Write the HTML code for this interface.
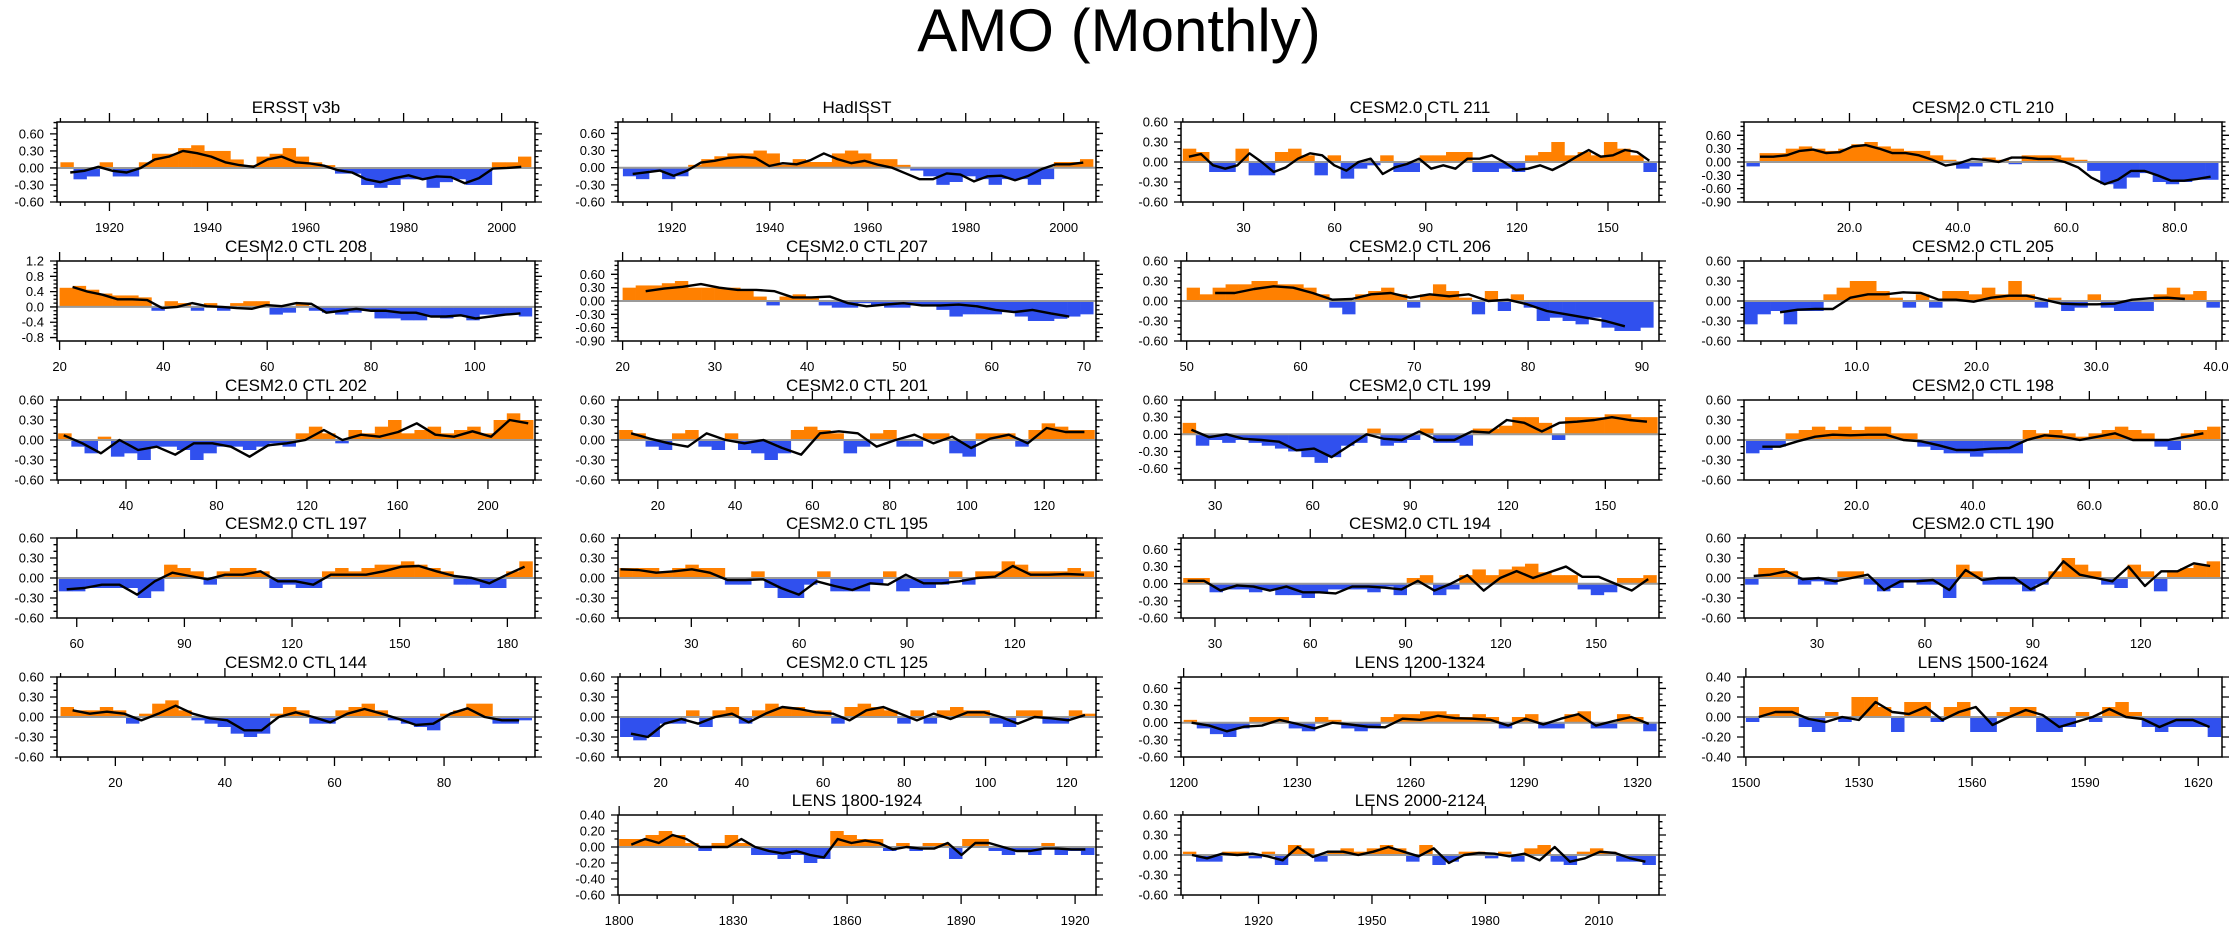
<!DOCTYPE html>
<html><head><meta charset="utf-8"><title>AMO (Monthly)</title>
<style>
html,body{margin:0;padding:0;background:#fff;}
svg{display:block;font-family:"Liberation Sans",sans-serif;}
</style></head>
<body>
<svg id="chart" width="2239" height="932" viewBox="0 0 2239 932" xmlns="http://www.w3.org/2000/svg">
<text x="1119" y="51" text-anchor="middle" font-size="60">AMO (Monthly)</text>
</svg>
<script>
const p1Smooth=[-0.08,-0.05,0.02,-0.05,-0.08,0.0,0.15,0.2,0.3,0.26,0.2,0.1,0.05,0.02,0.15,0.2,0.1,0.08,0.04,-0.04,-0.08,-0.2,-0.25,-0.18,-0.13,-0.2,-0.15,-0.16,-0.27,-0.18,-0.01,0.0,0.02];
const p1Bars=[0.1,-0.2,-0.15,0.1,-0.15,-0.15,0.1,0.25,0.25,0.35,0.4,0.3,0.3,0.15,0.05,0.2,0.25,0.35,0.2,0.1,0.05,-0.1,-0.1,-0.3,-0.35,-0.3,-0.2,-0.2,-0.35,-0.25,-0.2,-0.3,-0.3,0.1,0.1,0.2];
const p2Smooth=[-0.11,-0.08,-0.05,-0.14,-0.05,0.09,0.12,0.17,0.19,0.17,0.03,0.08,0.06,0.13,0.25,0.15,0.08,0.12,0.05,0.0,-0.1,-0.2,-0.2,-0.1,-0.12,-0.24,-0.15,-0.14,-0.22,-0.14,-0.02,0.06,0.06,0.09];
const p2Bars=[-0.15,-0.2,-0.05,-0.2,-0.15,0.05,0.15,0.2,0.25,0.25,0.3,0.25,0.05,0.15,0.1,0.1,0.25,0.3,0.25,0.15,0.15,0.05,-0.05,-0.15,-0.3,-0.25,-0.15,-0.2,-0.3,-0.2,-0.2,-0.3,-0.2,0.1,0.1,0.15];
const p3Smooth=[0.08,0.12,-0.05,-0.1,-0.05,0.13,0.0,-0.15,-0.08,0.05,0.13,0.1,-0.05,-0.13,0.0,0.05,-0.18,-0.08,-0.03,0.05,-0.1,-0.05,-0.1,0.05,0.05,0.1,0.0,-0.12,-0.1,-0.05,-0.12,-0.03,0.08,0.18,0.08,0.1,0.18,0.15,0.02];
const p3Bars=[0.2,0.15,-0.15,-0.15,0.2,-0.2,-0.2,0.15,0.2,0.1,-0.2,0.1,-0.25,-0.1,-0.05,0.1,-0.15,-0.15,0.1,0.1,0.15,0.15,-0.15,-0.15,-0.1,-0.15,0.1,0.15,0.3,0.1,0.15,0.1,0.3,0.2,0.1,-0.15];
const p4Smooth=[0.12,0.12,0.15,0.25,0.28,0.2,0.22,0.35,0.38,0.3,0.2,0.2,0.15,0.05,-0.08,-0.03,0.07,0.05,0.0,0.1,0.1,0.07,0.07,0.0,-0.12,-0.35,-0.5,-0.4,-0.2,-0.2,-0.3,-0.42,-0.42,-0.38,-0.33];
const p4Bars=[-0.1,0.2,0.2,0.3,0.35,0.3,0.25,0.3,0.4,0.45,0.35,0.3,0.25,0.25,0.15,0.05,-0.15,-0.1,0.1,0.05,-0.05,0.15,0.15,0.15,0.1,0.05,-0.2,-0.5,-0.6,-0.35,-0.25,-0.45,-0.5,-0.45,-0.4,-0.4];
const p5Smooth=[0.52,0.4,0.32,0.2,0.2,0.18,-0.03,0.0,0.1,0.02,0.0,-0.03,-0.05,0.05,0.02,0.1,0.08,-0.15,-0.1,-0.05,-0.1,-0.1,-0.15,-0.15,-0.25,-0.25,-0.22,-0.3,-0.25,-0.2,-0.17];
const p5Bars=[0.5,0.55,0.45,0.35,0.3,0.3,0.25,-0.1,0.15,0.1,-0.1,0.1,-0.1,0.1,0.15,0.15,-0.2,-0.15,0.1,-0.1,-0.15,-0.2,-0.15,-0.1,-0.3,-0.3,-0.35,-0.35,-0.25,-0.3,-0.25,-0.35,-0.2,-0.2,-0.2,-0.25];
const p6Smooth=[0.22,0.28,0.32,0.38,0.3,0.25,0.25,0.22,0.08,0.08,0.1,-0.05,-0.12,-0.08,-0.05,-0.1,-0.1,-0.08,-0.12,-0.2,-0.25,-0.2,-0.28,-0.35];
const p6Bars=[0.3,0.35,0.35,0.4,0.45,0.3,0.3,0.3,0.3,0.25,0.1,-0.1,0.1,0.15,0.1,-0.1,-0.15,-0.15,-0.05,-0.1,-0.15,-0.15,-0.1,-0.1,-0.2,-0.35,-0.3,-0.3,-0.3,-0.25,-0.35,-0.45,-0.45,-0.4,-0.35,-0.3];
const p7Smooth=[0.12,0.12,0.18,0.22,0.2,0.12,0.02,0.03,0.1,0.12,0.05,0.1,0.07,0.1,0.0,0.02,-0.05,-0.15,-0.2,-0.25,-0.3,-0.38];
const p7Bars=[0.2,0.1,0.2,0.25,0.25,0.3,0.3,0.25,0.25,0.2,0.1,-0.1,-0.2,0.1,0.15,0.2,0.1,-0.1,0.1,0.25,0.15,0.05,-0.2,0.15,-0.15,0.1,-0.1,-0.3,-0.25,-0.3,-0.35,-0.25,-0.4,-0.45,-0.45,-0.4];
const p8Smooth=[-0.17,-0.13,-0.12,-0.12,0.05,0.1,0.1,0.13,0.12,0.02,0.02,-0.01,0.05,0.08,0.08,0.02,-0.04,-0.05,-0.05,-0.04,0.02,0.04,0.05,0.03];
const p8Bars=[-0.35,-0.2,-0.15,-0.35,-0.15,-0.15,0.1,0.2,0.3,0.3,0.15,0.05,-0.1,0.1,-0.1,0.15,0.15,0.1,0.2,0.1,0.3,0.1,-0.1,0.05,-0.15,-0.1,0.1,-0.1,-0.15,-0.15,-0.15,0.1,0.2,0.1,0.15,-0.1];
const p9Smooth=[0.07,-0.05,-0.2,0.0,-0.15,-0.1,-0.22,-0.05,-0.05,-0.1,-0.25,-0.08,-0.05,0.0,0.15,0.0,0.08,0.05,0.12,0.25,0.08,0.05,0.13,0.05,0.3,0.25];
const p9Bars=[0.1,-0.1,-0.2,0.05,-0.25,-0.2,-0.3,-0.1,-0.1,-0.15,-0.3,-0.2,-0.1,-0.1,-0.15,-0.1,-0.05,-0.1,0.1,0.2,0.1,-0.05,0.15,0.1,0.2,0.3,0.1,0.15,0.2,0.1,0.15,0.2,0.1,0.3,0.4,0.3];
const p10Smooth=[0.1,0.02,-0.05,-0.1,0.1,0.0,-0.05,0.0,-0.12,-0.22,0.1,0.13,0.1,-0.1,0.0,0.08,-0.05,0.05,-0.12,0.02,0.08,-0.05,0.18,0.12,0.12];
const p10Bars=[0.15,0.1,-0.1,-0.15,0.1,0.15,-0.1,-0.15,0.1,-0.15,-0.2,-0.3,-0.2,0.15,0.2,0.15,0.1,-0.2,-0.1,0.1,0.15,-0.1,-0.1,0.1,0.1,-0.2,-0.25,0.1,0.1,0.1,-0.1,0.15,0.25,0.2,0.15,0.15];
const p11Smooth=[0.08,-0.05,0.0,-0.08,-0.1,-0.13,-0.28,-0.25,-0.4,-0.2,0.0,-0.08,-0.1,0.05,-0.1,-0.1,0.05,0.03,0.25,0.2,0.05,0.2,0.22,0.25,0.3,0.25,0.22];
const p11Bars=[0.2,-0.2,-0.1,-0.15,-0.1,-0.15,-0.2,-0.25,-0.3,-0.4,-0.5,-0.4,-0.2,-0.15,0.1,-0.2,-0.15,-0.1,0.1,-0.15,-0.15,-0.2,0.1,0.1,0.15,0.3,0.3,0.2,-0.1,0.3,0.3,0.3,0.35,0.35,0.3,0.3];
const p12Smooth=[-0.1,-0.1,-0.02,0.05,0.08,0.07,0.08,0.08,0.0,-0.02,-0.08,-0.15,-0.15,-0.13,-0.12,0.0,0.07,0.05,0.0,0.05,0.1,0.0,0.0,0.0,0.05,0.1];
const p12Bars=[-0.2,-0.15,-0.1,0.1,0.15,0.2,0.15,0.2,0.15,0.2,0.2,0.1,0.1,-0.1,-0.15,-0.2,-0.2,-0.25,-0.2,-0.2,-0.2,0.15,0.1,0.15,0.1,0.05,0.1,0.15,0.2,0.15,0.1,-0.1,-0.15,0.1,0.15,0.2];
const p13Smooth=[-0.17,-0.15,-0.1,-0.1,-0.25,-0.05,0.08,0.03,-0.02,0.05,0.05,0.1,-0.05,-0.05,-0.1,0.05,0.05,0.05,0.1,0.17,0.18,0.1,0.03,0.0,-0.08,0.05,0.17];
const p13Bars=[-0.2,-0.2,-0.15,-0.15,-0.15,-0.15,-0.3,-0.2,0.2,0.15,0.1,-0.1,0.1,0.15,0.15,0.1,-0.15,-0.1,-0.15,-0.15,0.1,0.15,0.1,0.15,0.2,0.2,0.25,0.2,0.15,0.1,-0.1,-0.1,-0.15,-0.15,0.1,0.25];
const p14Smooth=[0.13,0.12,0.08,0.1,0.13,0.08,-0.03,-0.03,-0.02,-0.15,-0.25,-0.05,-0.12,-0.18,-0.08,-0.1,0.05,-0.08,-0.08,-0.05,0.0,0.02,0.18,0.05,0.05,0.06,0.05];
const p14Bars=[0.15,0.15,0.15,0.1,0.15,0.2,0.15,0.15,-0.1,-0.1,0.1,-0.15,-0.3,-0.3,-0.1,0.1,-0.2,-0.2,-0.2,-0.1,0.1,-0.2,-0.15,-0.15,-0.1,0.1,-0.1,0.1,0.1,0.25,0.2,0.1,0.1,0.1,0.15,0.1];
const p15Smooth=[0.05,0.05,-0.12,-0.03,-0.05,-0.12,-0.05,-0.15,-0.15,-0.17,-0.05,-0.05,-0.07,-0.1,0.05,-0.12,0.0,0.15,-0.12,0.1,0.22,0.1,0.2,0.3,0.12,0.12,0.0,-0.12,0.08];
const p15Bars=[0.1,0.1,-0.15,-0.1,-0.1,-0.15,-0.1,-0.2,-0.2,-0.25,-0.15,-0.1,-0.1,-0.1,-0.15,-0.05,-0.2,0.1,0.15,-0.2,-0.1,0.15,0.25,0.15,0.25,0.3,0.35,0.2,0.15,0.15,-0.1,-0.2,-0.15,0.1,0.1,0.15];
const p16Smooth=[0.03,0.05,0.1,-0.02,0.0,-0.05,0.0,0.05,-0.18,-0.05,-0.05,-0.03,-0.18,0.12,-0.03,0.0,0.0,-0.17,-0.05,0.25,0.05,0.0,-0.05,0.17,-0.12,0.1,0.1,0.22,0.18];
const p16Bars=[-0.1,0.15,0.15,0.1,-0.1,-0.05,-0.1,0.1,0.1,-0.1,-0.2,-0.15,-0.05,-0.1,-0.1,-0.3,0.2,0.1,-0.1,-0.1,-0.1,-0.2,-0.1,0.1,0.3,0.2,0.1,-0.1,-0.15,0.2,0.1,-0.2,0.1,0.15,0.2,0.25];
const p17Smooth=[0.1,0.05,0.08,0.05,-0.05,0.05,0.17,0.05,-0.02,-0.05,-0.2,-0.2,0.0,0.07,0.0,-0.08,0.05,0.12,0.05,-0.03,-0.12,-0.1,0.05,0.13,0.0,-0.05,-0.05];
const p17Bars=[0.15,0.1,0.1,0.15,0.1,-0.1,0.05,0.2,0.25,0.1,-0.05,-0.1,-0.15,-0.25,-0.3,-0.25,0.05,0.15,0.1,-0.1,-0.1,0.1,0.15,0.2,0.1,-0.05,-0.1,-0.15,-0.2,0.05,0.1,0.2,0.2,-0.1,-0.1,-0.05];
const p18Smooth=[-0.25,-0.3,-0.1,-0.03,-0.1,0.0,0.05,-0.08,0.05,0.15,0.12,0.07,0.05,-0.05,0.1,0.15,0.05,-0.05,0.05,-0.03,0.07,0.07,0.0,-0.1,0.0,-0.02,-0.05,0.03];
const p18Bars=[-0.3,-0.35,-0.3,-0.1,-0.1,0.1,-0.15,0.1,0.15,-0.1,0.1,0.2,0.15,0.15,0.1,0.1,-0.1,0.15,0.2,0.15,0.1,-0.1,0.1,-0.1,0.1,0.15,0.1,0.1,-0.1,-0.15,0.1,0.1,-0.1,-0.1,0.1,0.05];
const p19Smooth=[0.0,-0.05,-0.15,-0.07,-0.05,0.05,-0.02,-0.1,0.0,-0.03,-0.07,-0.08,0.07,0.05,0.12,0.08,0.07,0.05,-0.05,0.07,-0.03,0.07,0.15,-0.05,0.03,0.1,-0.02];
const p19Bars=[0.05,-0.1,-0.2,-0.25,-0.1,0.1,0.1,0.1,-0.1,-0.15,0.1,0.05,-0.1,-0.15,-0.1,0.1,0.15,0.15,0.2,0.2,0.15,0.1,0.15,0.1,-0.1,0.1,0.15,-0.1,-0.1,0.15,0.2,-0.1,-0.1,0.15,0.1,-0.15];
const p20Smooth=[0.0,0.05,0.05,-0.02,-0.05,0.0,-0.03,0.15,0.05,0.03,0.1,-0.03,0.05,0.1,-0.08,0.0,0.07,0.02,-0.1,-0.05,0.0,0.08,0.0,-0.02,-0.1,-0.03,-0.03,-0.1];
const p20Bars=[-0.05,0.1,0.1,0.1,-0.1,-0.15,0.05,-0.05,0.2,0.2,0.1,-0.15,0.15,0.15,-0.05,0.1,0.15,-0.15,-0.15,0.05,0.1,0.1,-0.15,-0.15,-0.1,0.05,-0.05,0.1,0.15,0.05,-0.1,-0.15,-0.1,-0.1,-0.1,-0.2];
const p21Smooth=[0.03,0.1,0.05,0.15,0.1,0.0,0.0,0.0,0.1,0.0,-0.05,-0.08,-0.05,-0.1,-0.13,0.1,0.05,0.08,0.05,-0.03,0.0,-0.02,-0.02,0.05,-0.1,0.05,0.05,0.0,-0.05,-0.05,-0.02,-0.02,-0.03,-0.03];
const p21Bars=[0.1,0.1,0.15,0.2,0.15,0.05,-0.05,0.05,0.15,0.05,-0.1,-0.1,-0.15,-0.1,-0.2,-0.15,0.2,0.15,0.1,0.1,-0.05,0.05,-0.05,0.05,0.05,-0.15,0.1,0.1,-0.05,-0.1,-0.05,-0.1,0.05,-0.1,-0.05,-0.1];
const p22Smooth=[0.0,-0.05,0.02,0.0,0.02,-0.02,-0.08,0.12,-0.03,0.05,0.05,0.0,0.05,0.12,0.05,-0.02,0.1,-0.12,0.0,0.03,0.02,-0.02,0.02,-0.08,0.12,-0.1,-0.05,0.05,0.03,-0.05,-0.1];
const p22Bars=[0.05,-0.1,-0.1,0.05,0.05,-0.05,0.05,-0.15,0.15,0.1,-0.1,0.05,0.1,0.05,0.1,0.15,0.1,-0.1,0.15,-0.15,-0.1,0.05,0.05,-0.05,0.05,-0.1,0.1,0.15,-0.1,-0.15,0.05,0.1,0.05,-0.1,-0.1,-0.15];

const yTicks03=[-0.6,-0.3,0,0.3,0.6];
const yTicks09=[-0.9,-0.6,-0.3,0,0.3,0.6];
const yTicks208=[-0.8,-0.4,0,0.4,0.8,1.2];
const yTicks04=[-0.4,-0.2,0,0.2,0.4];
const yTicks1800=[-0.6,-0.4,-0.2,0,0.2,0.4];
const xTicksObs=[1920,1940,1960,1980,2000];
const xTicks211=[30,60,90,120,150];
const xTicks210=[20,40,60,80];
const xTicks208=[20,40,60,80,100];
const xTicks207=[20,30,40,50,60,70];
const xTicks206=[50,60,70,80,90];
const xTicks205=[10,20,30,40];
const xTicks202=[40,80,120,160,200];
const xTicks201=[20,40,60,80,100,120];
const xTicks197=[60,90,120,150,180];
const xTicks195=[30,60,90,120];
const xTicks1200=[1200,1230,1260,1290,1320];
const xTicks1500=[1500,1530,1560,1590,1620];
const xTicks1800=[1800,1830,1860,1890,1920];
const xTicks2000=[1920,1950,1980,2010];

const panels=[
 {name:'ersst',title:'ERSST v3b',col:0,row:0,x:[1909.3,2006.8],bx:[1910,2006],sx:[1912,2004],xt:xTicksObs,xm:5,xd:0,y:[-0.6,0.81],yt:yTicks03,ym:0.1,yd:2,s:p1Smooth,b:p1Bars},
 {name:'hadisst',title:'HadISST',col:1,row:0,x:[1909.0,2006.6],bx:[1910,2006],sx:[1912,2004],xt:xTicksObs,xm:5,xd:0,y:[-0.6,0.8],yt:yTicks03,ym:0.1,yd:2,s:p2Smooth,b:p2Bars},
 {name:'ctl-211',title:'CESM2.0 CTL 211',col:2,row:0,x:[9.4,166.8],bx:[10,166],sx:[12,163.6],xt:xTicks211,xm:10,xd:0,y:[-0.6,0.6],yt:yTicks03,ym:0.1,yd:2,s:p3Smooth,b:p3Bars},
 {name:'ctl-210',title:'CESM2.0 CTL 210',col:3,row:0,x:[0.55,88.7],bx:[1,88],sx:[3.5,86.6],xt:xTicks210,xm:5,xd:1,y:[-0.9,0.9],yt:yTicks09,ym:0.1,yd:2,s:p4Smooth,b:p4Bars},
 {name:'ctl-208',title:'CESM2.0 CTL 208',col:0,row:1,x:[19.5,111.6],bx:[20,111],sx:[22.5,108.8],xt:xTicks208,xm:5,xd:0,y:[-0.89,1.2],yt:yTicks208,ym:0.1,yd:1,s:p5Smooth,b:p5Bars},
 {name:'ctl-207',title:'CESM2.0 CTL 207',col:1,row:1,x:[19.5,71.3],bx:[20,71],sx:[22.5,68.4],xt:xTicks207,xm:2,xd:0,y:[-0.9,0.9],yt:yTicks09,ym:0.1,yd:2,s:p6Smooth,b:p6Bars},
 {name:'ctl-206',title:'CESM2.0 CTL 206',col:2,row:1,x:[49.5,91.5],bx:[50,91],sx:[52.5,88.5],xt:xTicks206,xm:2,xd:0,y:[-0.6,0.6],yt:yTicks03,ym:0.1,yd:2,s:p7Smooth,b:p7Bars},
 {name:'ctl-205',title:'CESM2.0 CTL 205',col:3,row:1,x:[0.59,40.5],bx:[0.6,40.3],sx:[3.6,37.4],xt:xTicks205,xm:2,xd:1,y:[-0.6,0.6],yt:yTicks03,ym:0.1,yd:2,s:p8Smooth,b:p8Bars},
 {name:'ctl-202',title:'CESM2.0 CTL 202',col:0,row:2,x:[9.5,220.8],bx:[10,220],sx:[12.5,217.8],xt:xTicks202,xm:10,xd:0,y:[-0.6,0.6],yt:yTicks03,ym:0.1,yd:2,s:p9Smooth,b:p9Bars},
 {name:'ctl-201',title:'CESM2.0 CTL 201',col:1,row:2,x:[9.7,133.4],bx:[10,133],sx:[13.1,130.4],xt:xTicks201,xm:5,xd:0,y:[-0.6,0.6],yt:yTicks03,ym:0.1,yd:2,s:p10Smooth,b:p10Bars},
 {name:'ctl-199',title:'CESM2.0 CTL 199',col:2,row:2,x:[19.5,166.5],bx:[20,166],sx:[22.7,162.8],xt:xTicks211,xm:10,xd:0,y:[-0.8,0.6],yt:yTicks03,ym:0.1,yd:2,s:p11Smooth,b:p11Bars},
 {name:'ctl-198',title:'CESM2.0 CTL 198',col:3,row:2,x:[0.65,82.8],bx:[1,82.5],sx:[3.8,79.6],xt:xTicks210,xm:5,xd:1,y:[-0.6,0.6],yt:yTicks03,ym:0.1,yd:2,s:p12Smooth,b:p12Bars},
 {name:'ctl-197',title:'CESM2.0 CTL 197',col:0,row:3,x:[54.5,187.7],bx:[55,187],sx:[57.2,184.8],xt:xTicks197,xm:10,xd:0,y:[-0.6,0.6],yt:yTicks03,ym:0.1,yd:2,s:p13Smooth,b:p13Bars},
 {name:'ctl-195',title:'CESM2.0 CTL 195',col:1,row:3,x:[9.6,142.6],bx:[10,142],sx:[10.3,139.3],xt:xTicks195,xm:10,xd:0,y:[-0.6,0.6],yt:yTicks03,ym:0.1,yd:2,s:p14Smooth,b:p14Bars},
 {name:'ctl-194',title:'CESM2.0 CTL 194',col:2,row:3,x:[19.3,169.8],bx:[20,169],sx:[21.4,166.4],xt:xTicks211,xm:10,xd:0,y:[-0.6,0.8],yt:yTicks03,ym:0.1,yd:2,s:p15Smooth,b:p15Bars},
 {name:'ctl-190',title:'CESM2.0 CTL 190',col:3,row:3,x:[9.7,142.6],bx:[10,142],sx:[12.4,139.3],xt:xTicks195,xm:10,xd:0,y:[-0.6,0.6],yt:yTicks03,ym:0.1,yd:2,s:p16Smooth,b:p16Bars},
 {name:'ctl-144',title:'CESM2.0 CTL 144',col:0,row:4,x:[9.35,96.6],bx:[10,96],sx:[12.2,93.7],xt:xTicks210,xm:5,xd:0,y:[-0.6,0.6],yt:yTicks03,ym:0.1,yd:2,s:p17Smooth,b:p17Bars},
 {name:'ctl-125',title:'CESM2.0 CTL 125',col:1,row:4,x:[9.5,127.2],bx:[10,127],sx:[12.7,124.5],xt:xTicks201,xm:5,xd:0,y:[-0.6,0.6],yt:yTicks03,ym:0.1,yd:2,s:p18Smooth,b:p18Bars},
 {name:'lens-1200',title:'LENS 1200-1324',col:2,row:4,x:[1199.3,1325.7],bx:[1200,1325],sx:[1202.1,1323],xt:xTicks1200,xm:10,xd:0,y:[-0.6,0.8],yt:yTicks03,ym:0.1,yd:2,s:p19Smooth,b:p19Bars},
 {name:'lens-1500',title:'LENS 1500-1624',col:3,row:4,x:[1499.5,1626.3],bx:[1500,1626],sx:[1503.4,1623],xt:xTicks1500,xm:10,xd:0,y:[-0.4,0.4],yt:yTicks04,ym:0.1,yd:2,s:p20Smooth,b:p20Bars},
 {name:'lens-1800',title:'LENS 1800-1924',col:1,row:5,x:[1799.7,1925.5],bx:[1800,1925],sx:[1803.2,1922.7],xt:xTicks1800,xm:10,xd:0,y:[-0.6,0.4],yt:yTicks1800,ym:0.1,yd:2,s:p21Smooth,b:p21Bars},
 {name:'lens-2000',title:'LENS 2000-2124',col:2,row:5,x:[1899.5,2025.9],bx:[1900,2025],sx:[1902.4,2022.3],xt:xTicks2000,xm:10,xd:0,y:[-0.6,0.6],yt:yTicks03,ym:0.1,yd:2,s:p22Smooth,b:p22Bars}
];

const colX=[57,618,1181,1744], rowY=[122,261,400,538,677,815], W=478, H=80;
const NS='http://www.w3.org/2000/svg';
const svg=document.getElementById('chart');
function mk(tag,attrs,parent){const e=document.createElementNS(NS,tag);for(const k in attrs)e.setAttribute(k,attrs[k]);parent.appendChild(e);return e;}

panels.forEach(p=>{
  const L=colX[p.col], T=rowY[p.row];
  const g=mk('g',{},svg);
  
  
  const xs=v=>L+(v-p.x[0])/(p.x[1]-p.x[0])*W;
  const ys=v=>T+H-(v-p.y[0])/(p.y[1]-p.y[0])*H;
  const n=p.b.length, bw=(p.bx[1]-p.bx[0])/n;
  const y0=ys(0);
  p.b.forEach((v,i)=>{
    const xa=xs(p.bx[0]+i*bw), xb=xs(p.bx[0]+(i+1)*bw), yv=ys(v);
    const r=mk('rect',{x:xa.toFixed(2),y:Math.min(yv,y0).toFixed(2),width:(xb-xa+0.3).toFixed(2),height:Math.abs(yv-y0).toFixed(2),fill:v>=0?'#ff8000':'#3050ee'},g);
    
    
  });
  const z=mk('line',{x1:L,x2:L+W,y1:y0,y2:y0,stroke:'#9a9a9a','stroke-width':2},g);
  
  
  const m=p.s.length, sd=(p.sx[1]-p.sx[0])/(m-1);
  const pts=p.s.map((v,i)=>xs(p.sx[0]+i*sd).toFixed(2)+','+ys(v).toFixed(2)).join(' ');
  const pl=mk('polyline',{points:pts,fill:'none',stroke:'#000','stroke-width':2.4,'stroke-linejoin':'round'},g);
  
  
  const fr=mk('rect',{x:L,y:T,width:W,height:H,fill:'none',stroke:'#000','stroke-width':1.5},g);
  
  
  let d='';
  const xStart=Math.ceil(p.x[0]/p.xm)*p.xm;
  for(let v=xStart; v<=p.x[1]+1e-9; v+=p.xm){
    const major=p.xt.some(t=>Math.abs(t-v)<1e-6);
    const len=major?9:4, X=xs(v).toFixed(2);
    d+=`M${X},${T}v${-len}M${X},${T+H}v${len}`;
  }
  const yStart=Math.ceil((p.y[0]-1e-9)/p.ym)*p.ym;
  for(let v=yStart; v<=p.y[1]+1e-9; v+=p.ym){
    const major=p.yt.some(t=>Math.abs(t-v)<1e-6);
    const len=major?7:3.5, Y=ys(v).toFixed(2);
    d+=`M${L},${Y}h${-len}M${L+W},${Y}h${len}`;
  }
  const tk=mk('path',{d:d,stroke:'#000','stroke-width':1.3,fill:'none'},g);
  
  
  p.xt.forEach(v=>{
    const t=mk('text',{x:xs(v).toFixed(2),y:T+H+30,'text-anchor':'middle','font-size':13},g);
    t.textContent=v.toFixed(p.xd);
    
    
  });
  p.yt.forEach(v=>{
    const t=mk('text',{x:L-13,y:(ys(v)+4.5).toFixed(2),'text-anchor':'end','font-size':13},g);
    t.textContent=v.toFixed(p.yd);
    
    
  });
  const tt=mk('text',{x:L+W/2,y:T-9,'text-anchor':'middle','font-size':17},g);
  tt.textContent=p.title;
  
  
});
</script>
</body></html>
